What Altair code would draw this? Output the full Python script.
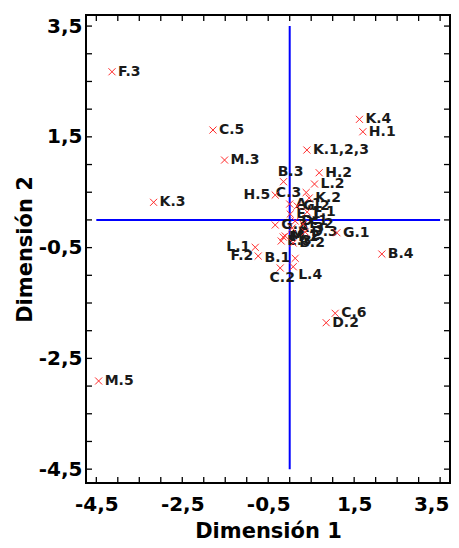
import altair as alt
import pandas as pd

# ---- data ----
labels = ["F.3", "C.5", "M.3", "K.3", "M.5", "K.4", "H.1", "K.1,2,3", "H.2", "L.2",
          "B.3", "H.5", "C.3", "K.2", "A.1", "G.2", "F.1", "E.1", "D.1", "E.2",
          "A.3", "D.3", "M.1", "M.2", "E.3", "B.2", "G.3", "G.1", "B.4", "L.1",
          "F.2", "B.1", "C.2", "L.4", "C.6", "D.2"]
dim1 = [-4.135, -1.786, -1.516, -3.167, -4.446, 1.623, 1.702, 0.40, 0.686, 0.577,
        -0.144, -0.337, 0.384, 0.453, 0.0, 0.174, 0.407, 0.012, 0.128, 0.314,
        0.058, 0.360, -0.151, -0.105, -0.198, 0.081, -0.337, 1.098, 2.144, -0.802,
        -0.733, 0.128, -0.221, 0.081, 1.058, 0.849]
dim2 = [2.675, 1.623, 1.081, 0.318, -2.908, 1.816, 1.592, 1.262, 0.852, 0.648,
        0.690, 0.449, 0.495, 0.395, 0.287, 0.251, 0.143, 0.106, -0.020, -0.074,
        -0.146, -0.218, -0.309, -0.290, -0.381, -0.417, -0.092, -0.231, -0.616, -0.495,
        -0.652, -0.693, -0.868, -0.845, -1.686, -1.856]
# where each label sits relative to its point
place = ["r", "r", "r", "r", "r", "r", "r", "r", "r", "r",
         "t", "l", "l", "r", "r", "r", "r", "r", "r", "r",
         "r", "r", "r", "r", "r", "r", "r", "r", "r", "l",
         "l", "l", "b", "br", "r", "r"]

major_ticks = [-4.5, -2.5, -0.5, 1.5, 3.5]
minor_ticks = [-4.5, -4.0, -3.5, -3.0, -2.5, -2.0, -1.5, -1.0, -0.5,
               0.0, 0.5, 1.0, 1.5, 2.0, 2.5, 3.0, 3.5]
ref_start = -4.5
ref_end = 3.5

df = pd.DataFrame({"label": labels, "d1": dim1, "d2": dim2, "pos": place})
ticks_df = pd.DataFrame({"t": minor_ticks})
hline_df = pd.DataFrame({"a": [ref_start], "b": [ref_end], "c": [0.0]})

W, H = 364, 468
FONT = "DejaVu Sans"
xs = alt.Scale(domain=[-4.74, 3.73], nice=False, zero=False)
ys = alt.Scale(domain=[-4.75, 3.70], nice=False, zero=False)
lab_expr = "replace(toString(datum.value), '.', ',')"

x_axis = alt.Axis(values=major_ticks, labelExpr=lab_expr, title="Dimensión 1",
                  grid=False, ticks=False, domain=False,
                  labelFont=FONT, labelFontWeight="bold", labelFontSize=20, labelColor="black",
                  labelPadding=11, titleFont=FONT, titleFontWeight="bold", titleFontSize=21,
                  titleColor="black", titlePadding=6, labelFlush=False, labelOverlap=False,
                  labelOffset=alt.ExprRef("datum.value > 3 ? -9 : 0"))
y_axis = alt.Axis(values=major_ticks, labelExpr=lab_expr, title="Dimensión 2",
                  grid=False, ticks=False, domain=False,
                  labelFont=FONT, labelFontWeight="bold", labelFontSize=20, labelColor="black",
                  labelPadding=4, titleFont=FONT, titleFontWeight="bold", titleFontSize=21,
                  titleColor="black", titlePadding=3, labelFlush=False, labelOverlap=False)


def X(f):
    return alt.X(f, scale=xs, axis=x_axis, title="Dimensión 1")


def Y(f):
    return alt.Y(f, scale=ys, axis=y_axis, title="Dimensión 2")


# blue reference lines
hline = alt.Chart(hline_df).mark_rule(color="#0000ff", strokeWidth=2).encode(
    x=X("a:Q"), x2="b:Q", y=Y("c:Q"))
vline = alt.Chart(hline_df).mark_rule(color="#0000ff", strokeWidth=2).encode(
    y=Y("a:Q"), y2="b:Q", x=X("c:Q"))

# inward ticks on all four sides
tl = 6
t_bottom = alt.Chart(ticks_df).mark_rule(color="black", strokeWidth=1.3).encode(
    x=X("t:Q"), y=alt.value(H), y2=alt.value(H - tl))
t_top = alt.Chart(ticks_df).mark_rule(color="black", strokeWidth=1.3).encode(
    x=X("t:Q"), y=alt.value(0), y2=alt.value(tl))
t_left = alt.Chart(ticks_df).mark_rule(color="black", strokeWidth=1.3).encode(
    y=Y("t:Q"), x=alt.value(0), x2=alt.value(tl))
t_right = alt.Chart(ticks_df).mark_rule(color="black", strokeWidth=1.3).encode(
    y=Y("t:Q"), x=alt.value(W), x2=alt.value(W - tl))

# labels
offsets = {
    "r": dict(align="left", dx=6, dy=0),
    "l": dict(align="right", dx=-5, dy=0),
    "t": dict(align="center", dx=7, dy=-10),
    "b": dict(align="center", dx=2, dy=10),
    "br": dict(align="left", dx=5, dy=8),
}
text_layers = []
for key, o in offsets.items():
    text_layers.append(
        alt.Chart(df).transform_filter(alt.datum.pos == key).mark_text(
            font=FONT, fontWeight="bold", fontSize=14, color="#1a1a1a",
            baseline="middle", **o).encode(
            x=X("d1:Q"), y=Y("d2:Q"), text="label:N"))

points = alt.Chart(df).mark_point(
    shape="M-1,-1L1,1M1,-1L-1,1", filled=False, color="#ff2a2a",
    size=50, strokeWidth=1, opacity=1).encode(
    x=X("d1:Q"), y=Y("d2:Q"))

chart = alt.layer(hline, vline, t_bottom, t_top, t_left, t_right, *text_layers, points).properties(
    width=W, height=H,
    padding={"left": 78, "top": 7, "right": 1, "bottom": 58},
    autosize=alt.AutoSizeParams(type="none"),
    background="white",
).configure_view(stroke="black", strokeWidth=2)

chart.save("out.html", embed_options={"renderer": "svg", "actions": False})
